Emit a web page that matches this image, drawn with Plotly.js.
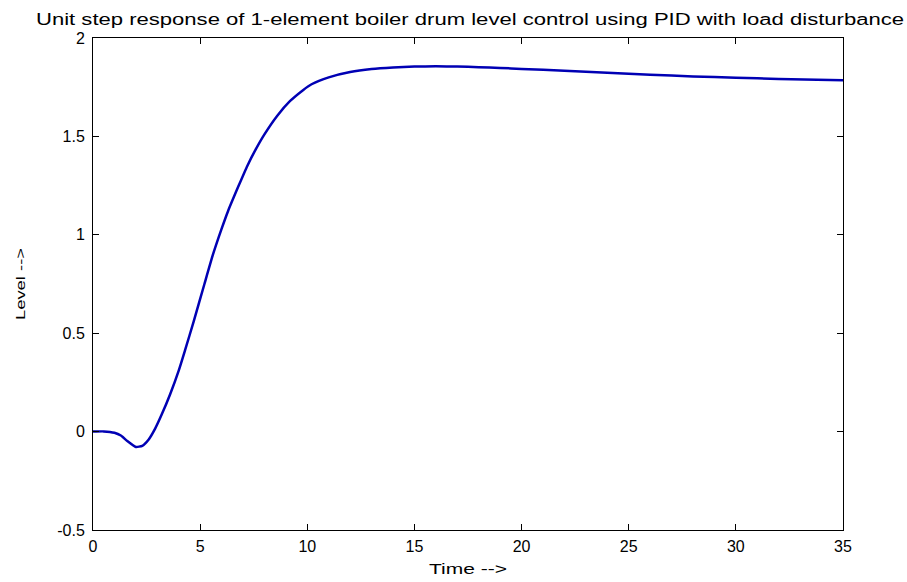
<!DOCTYPE html>
<html>
<head>
<meta charset="utf-8">
<script src="https://cdn.plot.ly/plotly-3.0.1.min.js"></script>
<style>html,body{margin:0;padding:0;background:#fff;}#chart{width:907px;height:582px;}</style>
</head>
<body>
<div id="chart"></div>
<script>
const timeValues = [0, 0.5, 1.0, 1.3, 1.6, 2.0, 2.3, 2.6, 2.9, 3.2, 3.6, 4.0, 4.3, 4.7, 5.2, 5.6, 6.0, 6.3, 6.8, 7.2, 7.6, 8.0, 8.6, 9.2, 9.8, 10.2, 11, 12, 13, 14, 15, 16, 17, 18, 19, 20, 22, 24, 26, 28, 30, 32, 35];
const levelValues = [0, 0.001, -0.006, -0.02, -0.048, -0.078, -0.072, -0.04, 0.015, 0.085, 0.19, 0.31, 0.415, 0.56, 0.75, 0.90, 1.03, 1.12, 1.25, 1.35, 1.435, 1.51, 1.605, 1.68, 1.735, 1.765, 1.80, 1.827, 1.842, 1.85, 1.855, 1.856, 1.855, 1.852, 1.848, 1.843, 1.834, 1.823, 1.813, 1.805, 1.798, 1.792, 1.785];
const xTicks = [0, 5, 10, 15, 20, 25, 30, 35];
const yTicks = [-0.5, 0, 0.5, 1, 1.5, 2];
const yTickText = ['-0.5', '0', '0.5', '1', '1.5', '2'];
const chartTitle = 'Unit step response of 1-element boiler drum level control using PID with load disturbance';

const fam = 'Liberation Sans, Arial, sans-serif';
const tickFont = {family: fam, size: 16, color: '#000'};
Plotly.newPlot('chart', [{
  x: timeValues, y: levelValues, type: 'scatter', mode: 'lines',
  line: {color: '#0000b4', width: 2.5, shape: 'spline', smoothing: 0.5},
  hoverinfo: 'skip'
}], {
  width: 907, height: 582,
  margin: {l: 93, r: 64, t: 38, b: 52},
  paper_bgcolor: '#fff', plot_bgcolor: '#fff',
  font: tickFont,
  showlegend: false,
  title: {text: chartTitle, font: {family: fam, size: 16, color: '#000'},
          x: 470 / 907, xref: 'container', xanchor: 'center', y: 1 - 19 / 582, yref: 'container', yanchor: 'middle'},
  xaxis: {range: [0, 35], tickvals: xTicks, ticktext: xTicks.map(String), showgrid: false, zeroline: false,
          showline: true, linecolor: '#000', linewidth: 1, mirror: 'ticks', ticks: 'inside', ticklen: 6, tickcolor: '#000',
          tickfont: tickFont, ticklabelstandoff: 2, title: {text: 'Time -->', font: {family: fam, size: 14, color: '#000'}, standoff: 9}},
  yaxis: {range: [-0.5, 2], tickvals: yTicks, ticktext: yTickText, showgrid: false, zeroline: false,
          showline: true, linecolor: '#000', linewidth: 1, mirror: 'ticks', ticks: 'inside', ticklen: 6, tickcolor: '#000',
          tickfont: tickFont, ticklabelstandoff: 4, title: {text: 'Level -->', font: {family: fam, size: 13, color: '#000'}, standoff: 28}}
}, {staticPlot: true}).then(function (gd) {
  const stretch = function (sel, len) {
    const el = gd.querySelector(sel);
    if (el) { el.setAttribute('textLength', len); el.setAttribute('lengthAdjust', 'spacingAndGlyphs'); }
  };
  stretch('.gtitle', 868);
  stretch('.xtitle', 78);
  stretch('.ytitle', 72);
});
</script>
</body>
</html>
